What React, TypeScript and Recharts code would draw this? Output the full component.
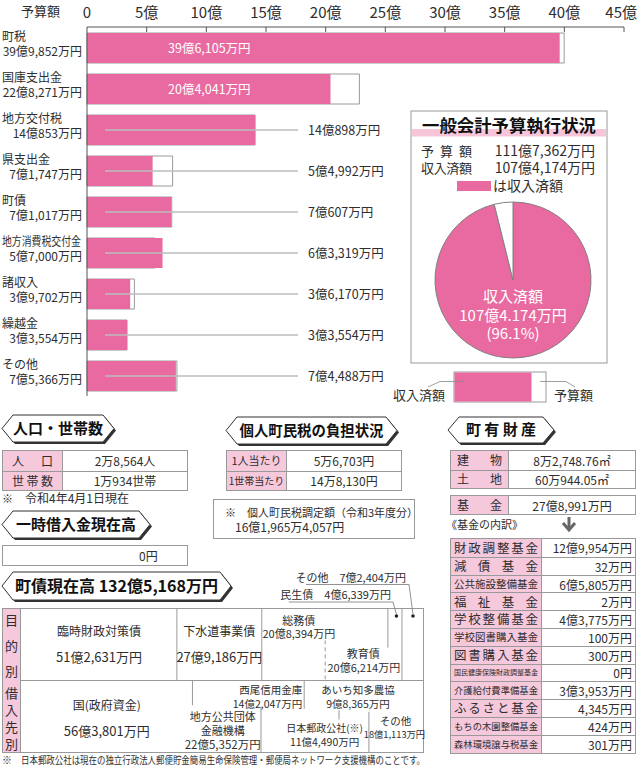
import React from 'react';
import { BarChart, Bar, XAxis, YAxis, LabelList, PieChart, Pie, Cell } from 'recharts';

const FONT = '"Noto Sans CJK JP", "Noto Sans", sans-serif';
const PINK = '#E96AA0';
const LIGHT_PINK = '#F6C8DC';
const LINE = '#999999';
const TEXT = '#2e2e2e';

// ---- 歳入 (億円) ----
const revenueCategories = ['町税', '国庫支出金', '地方交付税', '県支出金', '町債', '地方消費税交付金', '諸収入', '繰越金', 'その他'];
const budgetValues = [39.9852, 22.8271, 14.0853, 7.1747, 7.1017, 5.7, 3.9702, 3.3554, 7.5366];
const receivedValues = [39.6105, 20.4041, 14.0898, 5.4992, 7.0607, 6.3319, 3.617, 3.3554, 7.4488];
const revenueTicks = [0, 5, 10, 15, 20, 25, 30, 35, 40, 45];

// ---- 一般会計予算執行状況 (億円) ----
const totalBudget = 111.7362;
const totalReceived = 107.4174;

// ---- 町債現在高 (億円) ----
const purposeNames = ['臨時財政対策債', '下水道事業債', '総務債', '教育債', '民生債', 'その他'];
const purposeValues = [51.2631, 27.9186, 20.8394, 20.6214, 4.6339, 7.2404];
const lenderNames = ['国(政府資金)', '地方公共団体\n金融機構', '西尾信用金庫', '日本郵政公社(※)', 'あいち知多農協', 'その他'];
const lenderValues = [56.3801, 22.5352, 14.2047, 11.449, 9.8365, 18.1113];
const debtTotal = 132.5168;

// ---- tables ----
const populationRows = [['人口', '2万8,564人'], ['世帯数', '1万934世帯']];
const taxRows = [['1人当たり', '5万6,703円'], ['1世帯当たり', '14万8,130円']];
const propertyRows = [['建物', '8万2,748.76㎡'], ['土地', '60万944.05㎡']];
const fundTotal = ['基金', '27億8,991万円'];
const fundNames = ['財政調整基金', '減債基金', '公共施設整備基金', '福祉基金', '学校整備基金', '学校図書購入基金', '図書購入基金', '国民健康保険財政調整基金', '介護給付費準備基金', 'ふるさと基金', 'もちの木園整備基金', '森林環境譲与税基金'];
const fundValues = ['12億9,954万円', '32万円', '6億5,805万円', '2万円', '4億3,775万円', '100万円', '300万円', '0円', '3億3,953万円', '4,345万円', '424万円', '301万円'];

const fmtOku = (v: number) => {
  const oku = Math.floor(v + 1e-9);
  const man = Math.round((v - oku) * 10000);
  const manStr = man === 0 ? '' : String(man).replace(/\B(?=(\d{3})+(?!\d))/g, ',') + '万';
  return oku > 0 ? `${oku}億${manStr}円` : `${manStr}円`;
};

const revenueData = revenueCategories.map((name, i) => ({ name, budget: budgetValues[i], received: receivedValues[i] }));
const pieData = [
  { name: '収入済額', value: totalReceived },
  { name: '未収入', value: totalBudget - totalReceived },
];
const debtData = [
  Object.assign({ row: '目的別' }, ...purposeValues.map((v, k) => ({ [`s${k}`]: v }))),
  Object.assign({ row: '借入先別' }, ...lenderValues.map((v, k) => ({ [`s${k}`]: v }))),
];

// ---- layout for debt labels (offsets relative to each segment) ----
type Item = { dx: number; dy: number; a: 'start' | 'middle' | 'end'; s: number };
type SegLayout = { ref: 'l' | 'c' | 'r'; items: Item[]; line?: [number, number]; dash?: boolean; callout?: { pts: number[][]; dot: number[] } };
const purposeLayout: SegLayout[] = [
  { ref: 'c', items: [{ dx: 0, dy: 27.5, a: 'middle', s: 12 }, { dx: 0, dy: 54, a: 'middle', s: 13 }] },
  { ref: 'c', items: [{ dx: 0, dy: 27.5, a: 'middle', s: 12 }, { dx: 0, dy: 54, a: 'middle', s: 13 }], line: [0, 1] },
  { ref: 'l', items: [{ dx: 37, dy: 16.5, a: 'middle', s: 11 }, { dx: 37, dy: 30, a: 'middle', s: 11 }], line: [0, 1] },
  { ref: 'l', items: [{ dx: 38, dy: 50, a: 'middle', s: 11 }, { dx: 75, dy: 63.5, a: 'end', s: 11 }], line: [0.45, 1], dash: true },
  { ref: 'c', items: [{ dx: -4, dy: -9.5, a: 'end', s: 11 }], line: [0, 0.55], callout: { pts: [[-106, -6], [-2, -6], [1.5, 6]], dot: [1.5, 8] } },
  { ref: 'c', items: [{ dx: -7, dy: -26.5, a: 'end', s: 11 }], line: [0, 1], callout: { pts: [[-107, -23.5], [-4, -23.5], [0, 6]], dot: [0, 8] } },
];
const lenderLayout: SegLayout[] = [
  { ref: 'c', items: [{ dx: 0, dy: 29.5, a: 'middle', s: 12 }, { dx: 0, dy: 56.3, a: 'middle', s: 13 }] },
  { ref: 'c', items: [{ dx: -4, dy: 40.5, a: 'middle', s: 11 }, { dx: -4, dy: 54.5, a: 'middle', s: 11 }, { dx: -4, dy: 68.5, a: 'middle', s: 11.5 }], line: [0, 0.35] },
  { ref: 'r', items: [{ dx: -2, dy: 13.5, a: 'end', s: 10.5 }, { dx: -2, dy: 28, a: 'end', s: 10.5 }], line: [0.37, 1] },
  { ref: 'c', items: [{ dx: 3, dy: 52, a: 'middle', s: 10 }, { dx: 3, dy: 65.7, a: 'middle', s: 10.5 }], line: [0, 0.4] },
  { ref: 'c', items: [{ dx: 4, dy: 13.5, a: 'middle', s: 10.5 }, { dx: 4, dy: 28, a: 'middle', s: 10.5 }], line: [0.42, 0.55] },
  { ref: 'c', items: [{ dx: -1, dy: 45, a: 'middle', s: 10.5 }, { dx: -2, dy: 58, a: 'middle', s: 9.3 }], line: [0.44, 1] },
];

// ---- custom ticks / labels ----
const RevenueXTick = (p: any) => {
  const v = p.payload.value;
  const last = v === revenueTicks[revenueTicks.length - 1];
  return (
    <g>
      <text x={last ? 637 : p.x} y={p.y + 1} textAnchor={last ? 'end' : 'middle'} fontSize={15} fill={TEXT} fontFamily={FONT}>{v === 0 ? '0' : `${v}億`}</text>
      {v !== 0 && <line x1={p.x} x2={p.x} y1={p.y + 10} y2={p.y + 15} stroke="#555" />}
    </g>
  );
};

const RevenueYTick = (p: any) => {
  const i = typeof p.index === 'number' ? p.index : revenueCategories.indexOf(p.payload.value);
  const name = revenueCategories[i];
  const long = name.length > 6;
  return (
    <g fontFamily={FONT} fill={TEXT} fontSize={12}>
      <text x={p.x - 80} y={p.y - 7} textLength={long ? 79 : undefined} lengthAdjust="spacingAndGlyphs">{name}</text>
      <text x={p.x} y={p.y + 8} textAnchor="end">{fmtOku(budgetValues[i])}</text>
    </g>
  );
};

const renderReceivedLabel = (p: any) => {
  const vb = p.viewBox ?? p;
  const x = Number(vb.x), y = Number(vb.y), h = Number(vb.height);
  const idx = typeof p.index === 'number' ? p.index : receivedValues.indexOf(Number(p.value));
  const cy = y + h / 2;
  const text = fmtOku(receivedValues[idx]);
  if (idx < 2) {
    return <text x={x + 81} y={cy + 4.5} fill="#fff" fontSize={12.5} fontFamily={FONT}>{text}</text>;
  }
  return (
    <g>
      <line x1={x + 18} x2={x + 211} y1={cy} y2={cy} stroke="#bdbdbd" strokeWidth={1.5} />
      <text x={x + 221} y={cy + 4.5} fill={TEXT} fontSize={12.5} fontFamily={FONT}>{text}</text>
    </g>
  );
};

const renderPieLabel = (p: any) => {
  if (p.index !== 0) return null;
  return (
    <g fontFamily={FONT} fontSize={15}>
      <text x={p.cx} y={p.cy + 22} textAnchor="middle" fill="#fff">{pieData[0].name}</text>
      <text x={p.cx} y={p.cy + 40.5} textAnchor="middle" fill="#fff">{fmtOku(totalReceived).replace(',', '.')}</text>
      <text x={p.cx} y={p.cy + 59} textAnchor="middle" fill="#fff">{`(${(p.percent * 100).toFixed(1)}%)`}</text>
    </g>
  );
};

const renderDebtLabel = (k: number) => (p: any) => {
  const vb = p.viewBox ?? p;
  const x = Number(vb.x), y = Number(vb.y), w = Number(vb.width), h = Number(vb.height);
  const row = typeof p.index === 'number' ? p.index : (Math.abs(Number(p.value) - purposeValues[k]) < 1e-9 ? 0 : 1);
  const names = row === 0 ? purposeNames : lenderNames;
  const values = row === 0 ? purposeValues : lenderValues;
  const L = (row === 0 ? purposeLayout : lenderLayout)[k];
  const refX = L.ref === 'l' ? x : L.ref === 'r' ? x + w : x + w / 2;
  const lines = L.callout ? [`${names[k]}　${fmtOku(values[k])}`] : [...names[k].split('\n'), fmtOku(values[k])];
  return (
    <g fontFamily={FONT} fill={TEXT}>
      {L.line && (
        <line x1={x} x2={x} y1={y + h * L.line[0]} y2={y + h * L.line[1]} stroke={LINE} strokeWidth={1} strokeDasharray={L.dash ? '4 3' : undefined} />
      )}
      {L.callout && (
        <g>
          <polyline points={L.callout.pts.map(([dx, dy]) => `${refX + dx},${y + dy}`).join(' ')} fill="none" stroke="#777" strokeWidth={0.8} />
          <circle cx={refX + L.callout.dot[0]} cy={y + L.callout.dot[1]} r={1.8} fill="#222" />
        </g>
      )}
      {lines.map((t, i) => {
        const it = L.items[i];
        return (
          <text key={i} x={refX + it.dx} y={y + it.dy} textAnchor={it.a} fontSize={it.s}>{t}</text>
        );
      })}
    </g>
  );
};

// ---- decorations ----
const Badge = ({ x, y, w, h, text, size, tl }: { x: number; y: number; w: number; h: number; text: string; size: number; tl?: number }) => {
  const d = 11;
  const pts = (ox: number, oy: number) =>
    `${ox},${oy + h / 2} ${ox + d},${oy} ${ox + w - d},${oy} ${ox + w},${oy + h / 2} ${ox + w - d},${oy + h} ${ox + d},${oy + h}`;
  return (
    <g>
      <polygon points={pts(x + 2, y + 2)} fill="#333" />
      <polygon points={pts(x, y)} fill="#fff" stroke="#333" strokeWidth={1} />
      <text x={x + w / 2} y={y + h / 2 + size * 0.36} textAnchor="middle" fontSize={size} fontWeight={700} fill="#111" fontFamily={FONT}
        textLength={tl} lengthAdjust={tl ? 'spacingAndGlyphs' : undefined}>{text}</text>
    </g>
  );
};

const Spread = ({ text, pad, size }: { text: string; pad: number; size: number }) => (
  <div style={{ display: 'flex', justifyContent: text.length > 1 ? 'space-between' : 'center', width: '100%', padding: `0 ${pad}px`, boxSizing: 'border-box', fontSize: size, lineHeight: 1 }}>
    {[...text].map((c, i) => <span key={i}>{c}</span>)}
  </div>
);

const Table = ({ left, top, width, labelW, rowH, rows, valueAlign = 'center', valuePad = 0, valueSize = 12 }: any) => (
  <div style={{ position: 'absolute', left, top, width, boxSizing: 'border-box', border: `1px solid ${LINE}`, background: '#fff' }}>
    {rows.map((r: any, i: number) => (
      <div key={i} style={{ display: 'flex', height: rowH, borderTop: i ? `1px solid ${LINE}` : 'none', boxSizing: 'border-box' }}>
        <div style={{ width: labelW, background: LIGHT_PINK, borderRight: `1px solid ${LINE}`, display: 'flex', alignItems: 'center', boxSizing: 'border-box', flexShrink: 0 }}>{r[0]}</div>
        <div style={{ flex: 1, display: 'flex', alignItems: 'center', justifyContent: valueAlign === 'right' ? 'flex-end' : 'center', paddingRight: valuePad, fontSize: valueSize, whiteSpace: 'nowrap' }}>{r[1]}</div>
      </div>
    ))}
  </div>
);

const centerLabel = (t: string, size: number) => <div style={{ width: '100%', textAlign: 'center', fontSize: size, lineHeight: 1 }}>{t}</div>;

export default function App() {
  const fundLabelW = 91;
  return (
    <div style={{ position: 'absolute', left: 0, top: 0, width: 639, height: 768, background: '#fff', fontFamily: FONT, color: TEXT, overflow: 'hidden' }}>
      {/* 歳入 bar chart */}
      <div style={{ position: 'absolute', left: 0, top: 0 }}>
        <BarChart width={639} height={396} data={revenueData} layout="vertical" margin={{ top: 0, right: 15, bottom: 0, left: 0 }} barGap={-30}>
          <XAxis type="number" orientation="top" domain={[0, 45]} ticks={revenueTicks} height={27} tickSize={0} tickMargin={10}
            tick={<RevenueXTick />} axisLine={{ stroke: '#555' }} tickLine={false} interval={0} />
          <YAxis type="category" dataKey="name" width={87} tickSize={0} tickMargin={5} tick={<RevenueYTick />}
            axisLine={{ stroke: '#555' }} tickLine={false} interval={0} />
          <Bar dataKey="budget" barSize={30} fill="#fff" stroke="#9a9a9a" strokeWidth={1} isAnimationActive={false} />
          <Bar dataKey="received" barSize={30} fill={PINK} isAnimationActive={false}>
            <LabelList dataKey="received" content={renderReceivedLabel} />
          </Bar>
        </BarChart>
      </div>
      <div style={{ position: 'absolute', left: 21, top: 2, fontSize: 13, lineHeight: '18px' }}>予算額</div>

      {/* decorations */}
      <svg style={{ position: 'absolute', left: 0, top: 0 }} width={639} height={768}>
        <g fontFamily={FONT} fill={TEXT}>
          <rect x={411} y={111} width={196} height={252} fill="#fff" stroke={LINE} />
          <rect x={412} y={129} width={194} height={7.5} fill="#F6C5D9" />
          <text x={509} y={132} textAnchor="middle" fontSize={17} fontWeight={700} fill="#111" textLength={174} lengthAdjust="spacingAndGlyphs">一般会計予算執行状況</text>
          <text x={421} y={155.5} fontSize={13} textLength={51} lengthAdjust="spacing">予算額</text>
          <text x={595} y={155.5} fontSize={14} textAnchor="end">{fmtOku(totalBudget)}</text>
          <text x={421} y={172.5} fontSize={13} textLength={51} lengthAdjust="spacing">収入済額</text>
          <text x={595} y={172.5} fontSize={14} textAnchor="end">{fmtOku(totalReceived)}</text>
          <rect x={457} y={181} width={34} height={10} fill={PINK} />
          <text x={493} y={191} fontSize={14}>は収入済額</text>

          <rect x={454} y={372} width={92} height={30} fill="#fff" stroke={LINE} />
          <rect x={454.5} y={372.5} width={77} height={29} fill={PINK} />
          <polyline points="428,387 440,381.5 463,381.5" fill="none" stroke="#888" strokeWidth={0.8} />
          <polyline points="540,381.5 566,381.5 575,387" fill="none" stroke="#888" strokeWidth={0.8} />
          <text x={393} y={399.5} fontSize={13}>収入済額</text>
          <text x={554} y={399.5} fontSize={13}>予算額</text>

          <Badge x={2} y={415} w={112} h={27} text="人口・世帯数" size={15} />
          <Badge x={226} y={417} w={171} h={27} text="個人町民税の負担状況" size={15} tl={144} />
          <Badge x={448} y={417} w={106} h={26} text="町 有 財 産" size={15} />
          <Badge x={2} y={511} w={148} h={27} text="一時借入金現在高" size={15} />
          <Badge x={2} y={572} w={229} h={28} text="町債現在高 132億5,168万円" size={16} />

          <text x={2} y={503} fontSize={11}>※</text>
          <text x={25} y={503} fontSize={12}>令和4年4月1日現在</text>

          <text x={446} y={529} fontSize={11}>《基金の内訳》</text>
          <line x1={569} x2={569} y1={517} y2={529} stroke="#666" strokeWidth={3} />
          <polyline points="563,523 569,530 575,523" fill="none" stroke="#666" strokeWidth={3} />

          <text x={2} y={764} fontSize={10}>※</text>
          <text x={21} y={764} fontSize={10} textLength={404} lengthAdjust="spacingAndGlyphs">日本郵政公社は現在の独立行政法人郵便貯金簡易生命保険管理・郵便局ネットワーク支援機構のことです。</text>
        </g>
      </svg>

      {/* pie */}
      <div style={{ position: 'absolute', left: 411, top: 190 }}>
        <PieChart width={196} height={172}>
          <Pie data={pieData} dataKey="value" cx={97} cy={85} outerRadius={78} startAngle={90} endAngle={-270}
            stroke="#808080" strokeWidth={1} isAnimationActive={false} labelLine={false} label={renderPieLabel}>
            <Cell fill={PINK} />
            <Cell fill="#fff" />
          </Pie>
        </PieChart>
      </div>

      {/* 人口・世帯数 */}
      <Table left={2} top={450} width={186} labelW={60} rowH={19.5} valueSize={12}
        rows={populationRows.map(([l, v]) => [<Spread text={l} pad={9} size={12} />, v])} />
      {/* 一時借入金 */}
      <div style={{ position: 'absolute', left: 2, top: 545, width: 186, height: 21, boxSizing: 'border-box', border: `1px solid ${LINE}`, fontSize: 12, lineHeight: '19px' }}>
        <span style={{ position: 'absolute', left: 136 }}>0円</span>
      </div>
      {/* 個人町民税 */}
      <Table left={226} top={450} width={176} labelW={60} rowH={19.5} valueSize={12}
        rows={taxRows.map(([l, v]) => [centerLabel(l, l.length > 5 ? 10 : 11), v])} />
      <div style={{ position: 'absolute', left: 213, top: 499, width: 202, height: 40, boxSizing: 'border-box', border: `1px solid ${LINE}`, fontSize: 11 }}>
        <div style={{ position: 'absolute', left: 11, top: 5, whiteSpace: 'nowrap', lineHeight: '14px' }}>※　個人町民税調定額（令和3年度分）</div>
        <div style={{ position: 'absolute', left: 21, top: 20, whiteSpace: 'nowrap', fontSize: 12, lineHeight: '14px' }}>16億1,965万4,057円</div>
      </div>

      {/* 町有財産 */}
      <Table left={450} top={450} width={186} labelW={58} rowH={18.5} valueSize={12}
        rows={propertyRows.map(([l, v]) => [<Spread text={l} pad={6} size={12} />, v])} />
      <Table left={450} top={495} width={186} labelW={58} rowH={18} valueSize={12}
        rows={[[<Spread text={fundTotal[0]} pad={6} size={12} />, fundTotal[1]]]} />
      <Table left={450} top={538} width={186} labelW={fundLabelW} rowH={17.8} valueAlign="right" valuePad={3} valueSize={12}
        rows={fundNames.map((n, i) => [<Spread text={n} pad={3} size={Math.min(12.5, (fundLabelW - 7) / n.length)} />, fundValues[i]])} />

      {/* 町債 table frame */}
      <div style={{ position: 'absolute', left: 2, top: 608, width: 422, height: 145, boxSizing: 'border-box', border: `1px solid ${LINE}`, background: '#fff' }}>
        <div style={{ position: 'absolute', left: 0, top: 71, width: '100%', height: 0, borderTop: `1px solid ${LINE}` }} />
        <div style={{ position: 'absolute', left: 0, top: 0, width: 18, height: '100%', background: LIGHT_PINK, borderRight: `1px solid ${LINE}`, boxSizing: 'border-box' }}>
          <div style={{ position: 'absolute', top: 4, height: 64, width: '100%', display: 'flex', flexDirection: 'column', justifyContent: 'space-between', alignItems: 'center', fontSize: 13, lineHeight: 1 }}>
            {['目', '的', '別'].map((c) => <span key={c}>{c}</span>)}
          </div>
          <div style={{ position: 'absolute', top: 77, height: 64, width: '100%', display: 'flex', flexDirection: 'column', justifyContent: 'space-between', alignItems: 'center', fontSize: 13, lineHeight: 1 }}>
            {['借', '入', '先', '別'].map((c) => <span key={c}>{c}</span>)}
          </div>
        </div>
      </div>
      <div style={{ position: 'absolute', left: 21, top: 570 }}>
        <BarChart width={413} height={182} data={debtData} layout="vertical" margin={{ top: 38, right: 10, bottom: 0, left: 0 }} barCategoryGap={0}>
          <XAxis type="number" domain={[0, debtTotal]} hide />
          <YAxis type="category" dataKey="row" hide width={0} />
          {purposeValues.map((_, k) => (
            <Bar key={k} dataKey={`s${k}`} stackId="debt" fill="#ffffff" fillOpacity={0} isAnimationActive={false}>
              <LabelList dataKey={`s${k}`} content={renderDebtLabel(k)} />
            </Bar>
          ))}
        </BarChart>
      </div>
    </div>
  );
}
